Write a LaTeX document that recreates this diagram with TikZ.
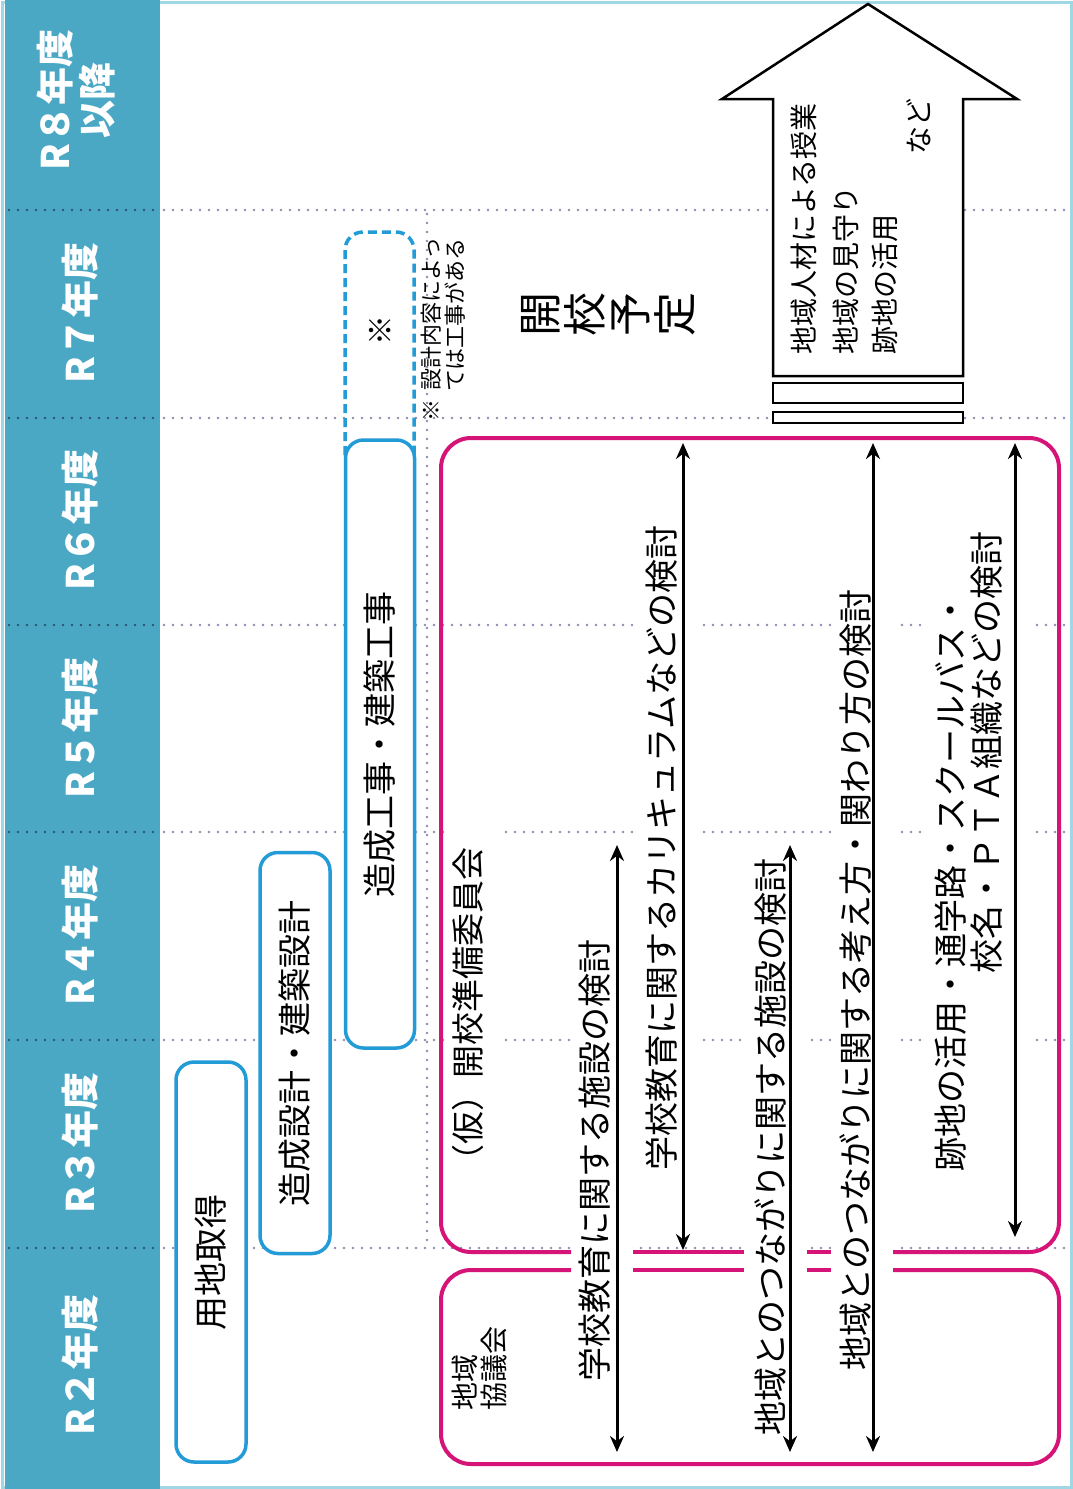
\documentclass[tikz,border=0pt]{standalone}
\usepackage{fontspec}
\setmainfont{Noto Sans CJK JP}
\usepackage{graphicx}
\usetikzlibrary{arrows.meta}
\definecolor{teal1}{RGB}{75,168,197}
\definecolor{framecol}{RGB}{160,215,228}
\definecolor{boxblue}{RGB}{35,155,215}
\definecolor{pink1}{RGB}{214,20,120}
\definecolor{dotgrey}{RGB}{140,140,180}
\definecolor{dotdark}{RGB}{45,85,115}
\newcommand\rotchar[1]{\rotatebox{90}{\rule[-0.12em]{0pt}{1.02em}#1}}
\begin{document}
\begin{tikzpicture}[x=1pt,y=-1pt,
  jp/.style={rotate=90, inner sep=0pt, font=\fontsize{34}{34}\selectfont},
  yearlab/.style={rotate=90, inner sep=0pt, text=white, font=\bfseries\fontsize{38}{42}\selectfont, align=center},
  bluebox/.style={draw=boxblue, line width=3.5pt, rounded corners=18pt, fill=white, rotate=90, inner sep=0pt, font=\fontsize{34}{34}\selectfont},
  pinkline/.style={draw=pink1, line width=4pt},
  dots/.style={draw=dotgrey, line width=2.8pt, line cap=round, dash pattern=on 0pt off 9pt},
  tdots/.style={dots, draw=dotdark},
  darr/.style={draw=black, line width=3pt, arrows={Stealth[length=16pt,width=14pt]-Stealth[length=16pt,width=14pt]}},
  blockline/.style={draw=black, line width=2.5pt, fill=white},
]
\useasboundingbox (0,0) rectangle (1073,1489);
\fill[white] (0,0) rectangle (1073,1489);
\draw[framecol, line width=3pt] (2,2) rectangle (1071,1487);
\fill[teal1] (5,0) rectangle (160,1489);

% year dividers
\foreach \yy in {210,418,625,832,1040,1248} {
  \draw[tdots] (9,\yy) -- (157,\yy);
  \draw[dots] (164,\yy) -- (1068,\yy);
}
\draw[dots] (427,214) -- (427,1244);

% year labels
\node[yearlab] (r8) at (76,100) {R８年度\\以降};
\node[yearlab] (r7) at (80,313) {R７年度};
\node[yearlab] (r6) at (80,520) {R６年度};
\node[yearlab] (r5) at (80,728) {R５年度};
\node[yearlab] (r4) at (80,935) {R４年度};
\node[yearlab] (r3) at (80,1143) {R３年度};
\node[yearlab] (r2) at (80,1365) {R２年度};

% dashed box (possible works)
\draw[boxblue, line width=3.5pt, dash pattern=on 9pt off 5pt, rounded corners=18pt]
  (345,455) -- (345,232) -- (414,232) -- (414,455);
\node[jp, font=\fontsize{30}{30}\selectfont] (kome) at (380,330) {※};

% blue boxes
\node[bluebox, minimum width=400pt, minimum height=70pt] (yochi) at (211,1262) {用地取得};
\node[bluebox, minimum width=401pt, minimum height=70pt] (sekkei) at (295,1053) {造成設計・建築設計};
\node[bluebox, minimum width=608pt, minimum height=69pt] (kouji) at (380,744) {造成工事・建築工事};

% note
\node[jp, font=\fontsize{22}{22}\selectfont, anchor=east] (note1) at (431,237) {※\hspace{0.4em}設計内容によっ};
\node[jp, font=\fontsize{22}{22}\selectfont, anchor=east] (note2) at (455,238) {ては工事がある};

% opening
\node[inner sep=0pt, font=\fontsize{44}{44}\selectfont] (kaiko) at (607,314)
  {\rotchar{開}\rotchar{校}\rotchar{予}\rotchar{定}};

% block arrow R8
\draw[blockline] (773,376) -- (773,99) -- (722,99) -- (868,4) -- (1017,99) -- (963,99) -- (963,376) -- cycle;
\draw[blockline] (773,383) rectangle (963,403);
\draw[blockline] (773,412) rectangle (963,423);
\node[jp, font=\fontsize{28}{28}\selectfont, anchor=west] (b1) at (804,355) {地域人材による授業};
\node[jp, font=\fontsize{28}{28}\selectfont, anchor=west] (b2) at (846,355) {地域の見守り};
\node[jp, font=\fontsize{28}{28}\selectfont, anchor=west] (b3) at (885,355) {跡地の活用};
\node[jp, font=\fontsize{28}{28}\selectfont, anchor=east] (b4) at (919,98) {など};

% white covers behind labels (interrupt dotted lines)
\fill[white] (445,815) rectangle (499,1205);
\fill[white] (571,920) rectangle (633,1400);
\fill[white] (638,515) rectangle (697,1180);
\fill[white] (744,850) rectangle (807,1445);
\fill[white] (831,580) rectangle (895,1380);
\fill[white] (924,510) rectangle (1034,1180);

% pink boxes
\draw[pinkline, rounded corners=30pt] (571,1252) -- (441,1252) -- (441,438) -- (1059,438) -- (1059,1252) -- (893,1252);
\draw[pinkline] (633,1252) -- (744,1252) (807,1252) -- (831,1252);
\draw[pinkline, rounded corners=30pt] (571,1270) -- (441,1270) -- (441,1464) -- (1059,1464) -- (1059,1270) -- (893,1270);
\draw[pinkline] (633,1270) -- (744,1270) (807,1270) -- (831,1270);

\node[jp, font=\fontsize{33}{33}\selectfont] (iinkai) at (468,1012) {（仮）開校準備委員会};
\node[jp, font=\fontsize{28}{29}\selectfont, align=left, anchor=west] (kyogikai) at (479,1411) {地域\\協議会};

% arrows
\coordinate (a1t) at (617,845);  \coordinate (a1b) at (617,1452);
\coordinate (a2t) at (683,443);  \coordinate (a2b) at (683,1250);
\coordinate (a3t) at (790,845);  \coordinate (a3b) at (790,1452);
\coordinate (a4t) at (873,443);  \coordinate (a4b) at (873,1452);
\coordinate (a5t) at (1015,443); \coordinate (a5b) at (1015,1237);
\draw[darr] (a1t) -- (a1b);
\draw[darr] (a2t) -- (a2b);
\draw[darr] (a3t) -- (a3b);
\draw[darr] (a4t) -- (a4b);
\draw[darr] (a5t) -- (a5b);

\node[jp] (t1) at (595,1160) {学校教育に関する施設の検討};
\node[jp] (t2) at (662,848) {学校教育に関するカリキュラムなどの検討};
\node[jp] (t3) at (771,1147) {地域とのつながりに関する施設の検討};
\node[jp] (t4) at (856,980) {地域とのつながりに関する考え方・関わり方の検討};
\node[jp] (t5a) at (951,882) {跡地の活用・通学路・スクールバス・};
\node[jp] (t5b) at (987,752) {校名・ＰＴＡ組織などの検討};
\end{tikzpicture}
\end{document}
